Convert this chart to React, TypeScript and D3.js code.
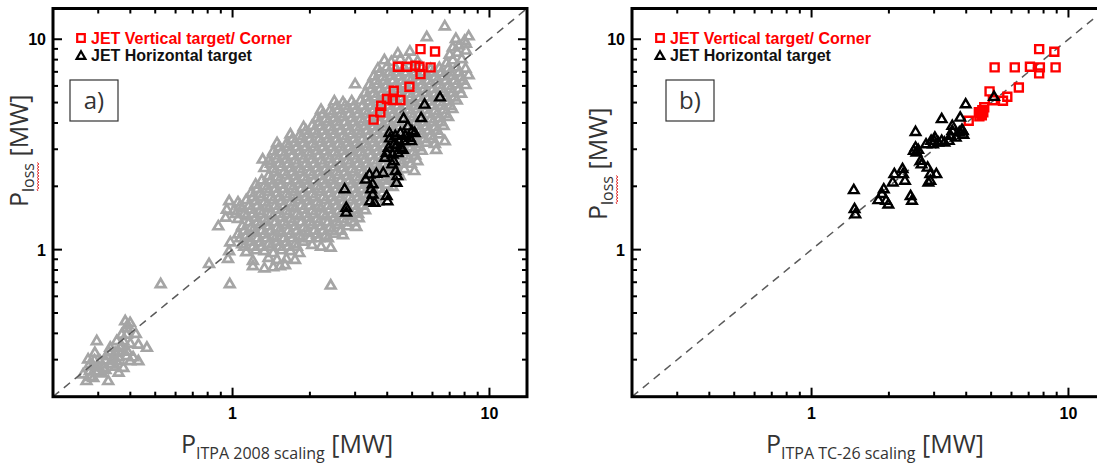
import React from 'react';
import * as d3 from 'd3';

// ---------- data (MW) ----------
// panel a, all ITPA database points (grey), outer rows and outliers
const grayA: [number, number][] = [
  [6.7,11.6],[5.7,10.3],[7.4,10.1],[8.3,10.4],[8.0,9.9],
  [7.6,9.4],[8.1,9.6],[7.2,9.2],
  [4.4,8.6],[4.9,8.8],[7.5,8.7],[8.1,8.9],[7.0,8.5],
  [3.9,8.0],[4.15,7.85],[4.5,8.1],[4.85,7.95],[5.25,7.9],[7.2,8.0],[7.8,8.1],[6.8,7.75],
  [3.68,7.3],[3.98,7.4],[4.31,7.3],[4.66,7.35],[5.04,7.3],[5.45,7.4],[5.9,7.25],[6.38,7.35],[6.9,7.3],[7.46,7.4],[8.07,7.3],
  [3.54,6.7],[3.83,6.65],[4.14,6.75],[4.48,6.7],[4.85,6.6],[5.24,6.7],[5.67,6.75],[6.13,6.65],[6.63,6.7],[7.17,6.75],[7.76,6.65],[8.3,6.8],
  [3.0,6.15],[3.4,6.1],[3.68,6.15],[3.98,6.1],[4.31,6.05],[4.66,6.15],[5.04,6.1],[5.45,6.1],[5.9,6.15],[6.38,6.1],[6.9,6.05],[7.46,6.15],[8.07,6.1],
  [3.28,5.6],[3.54,5.55],[3.83,5.6],[4.14,5.55],[4.48,5.6],[4.85,5.55],[5.24,5.6],[5.67,5.6],[6.13,5.55],[6.63,5.6],[7.17,5.6],[7.76,5.55],
  [2.49,5.1],[2.69,5.05],[2.91,5.1],[3.15,5.15],[3.4,5.1],[3.68,5.05],[3.98,5.1],[4.31,5.15],[4.66,5.1],[5.04,5.05],[5.45,5.1],[5.9,5.1],[6.38,5.05],[6.9,5.1],[7.46,5.15],
  [2.21,4.65],[2.39,4.6],[2.58,4.65],[2.8,4.7],[3.03,4.65],[3.28,4.6],[3.54,4.65],[3.83,4.7],[4.14,4.65],[4.48,4.6],[4.85,4.65],[5.24,4.7],[5.67,4.65],[6.13,4.6],[6.63,4.65],[7.17,4.7],
  [2.13,4.25],[2.3,4.2],[2.49,4.25],[2.69,4.3],[2.91,4.25],[3.15,4.2],[3.4,4.25],[3.68,4.3],[3.98,4.25],[4.31,4.2],[4.66,4.25],[5.04,4.3],[5.45,4.25],[5.9,4.2],[6.38,4.25],[6.9,4.3],
  [1.89,3.85],[2.04,3.9],[2.21,3.88],[2.39,3.85],[2.58,3.9],[2.8,3.88],[3.03,3.85],[3.28,3.9],[3.54,3.88],[3.83,3.85],[4.14,3.9],[4.48,3.88],[4.85,3.85],[5.24,3.9],[5.67,3.88],[6.13,3.85],[6.63,3.9],
  [1.68,3.55],[1.82,3.5],[1.97,3.55],[2.13,3.58],[2.3,3.52],[2.49,3.55],[2.69,3.5],[2.91,3.55],[3.15,3.58],[3.4,3.52],[3.68,3.55],[3.98,3.5],[4.31,3.55],[4.66,3.58],[5.04,3.52],[5.45,3.55],[5.9,3.5],[6.38,3.55],
  [1.49,3.23],[1.62,3.2],[1.75,3.25],[1.89,3.23],[2.04,3.2],[2.21,3.25],[2.39,3.23],[2.58,3.2],[2.8,3.25],[3.03,3.23],[3.28,3.2],[3.54,3.25],[3.83,3.23],[4.14,3.2],[4.48,3.25],[4.85,3.23],[5.24,3.2],[5.67,3.25],[6.13,3.2],[6.7,3.3],
  [1.44,2.95],[1.55,2.92],[1.68,2.97],[1.82,2.95],[1.97,2.92],[2.13,2.97],[2.3,2.95],[2.49,2.92],[2.69,2.97],[2.91,2.95],[3.15,2.92],[3.4,2.97],[3.68,2.95],[3.98,2.92],[4.31,2.97],[4.66,2.95],[5.04,2.92],[5.45,2.97],[6.2,3.0],
  [1.31,2.7],[1.38,2.66],[1.49,2.72],[1.62,2.7],[1.75,2.67],[1.89,2.72],[2.04,2.7],[2.21,2.67],[2.39,2.72],[2.58,2.7],[2.8,2.67],[3.03,2.72],[3.28,2.7],[3.54,2.67],[3.83,2.72],[4.14,2.7],[4.48,2.67],[4.85,2.72],[5.24,2.65],
  [1.33,2.46],[1.44,2.43],[1.55,2.48],[1.68,2.46],[1.82,2.43],[1.97,2.48],[2.13,2.46],[2.3,2.43],[2.49,2.48],[2.69,2.46],[2.91,2.43],[3.15,2.48],[3.4,2.46],[3.68,2.43],[3.98,2.48],[4.31,2.46],[4.66,2.43],[5.1,2.38],
  [1.38,2.25],[1.49,2.22],[1.62,2.27],[1.75,2.25],[1.89,2.22],[2.04,2.27],[2.21,2.25],[2.39,2.22],[2.58,2.27],[2.8,2.25],[3.03,2.22],[3.28,2.27],[3.54,2.25],[3.83,2.22],[4.14,2.27],[4.48,2.25],
  [1.23,2.05],[1.33,2.02],[1.44,2.07],[1.55,2.05],[1.68,2.02],[1.82,2.07],[1.97,2.05],[2.13,2.02],[2.3,2.07],[2.49,2.05],[2.69,2.02],[2.91,2.07],[3.15,2.05],[3.4,2.02],[3.68,2.07],[3.98,2.05],[4.2,2.0],
  [1.18,1.87],[1.28,1.85],[1.38,1.9],[1.49,1.87],[1.62,1.85],[1.75,1.9],[1.89,1.87],[2.04,1.85],[2.21,1.9],[2.39,1.87],[2.58,1.85],[2.8,1.9],[3.03,1.87],[3.28,1.85],[3.54,1.9],[3.83,1.87],
  [0.97,1.71],[1.05,1.69],[1.13,1.73],[1.23,1.71],[1.33,1.69],[1.44,1.73],[1.55,1.71],[1.68,1.69],[1.82,1.73],[1.97,1.71],[2.13,1.69],[2.3,1.73],[2.49,1.71],[2.69,1.69],[2.91,1.73],[3.15,1.71],[3.4,1.69],[3.68,1.7],
  [0.95,1.56],[1.01,1.54],[1.09,1.58],[1.18,1.56],[1.28,1.54],[1.38,1.58],[1.49,1.56],[1.62,1.54],[1.75,1.58],[1.89,1.56],[2.04,1.54],[2.21,1.58],[2.39,1.56],[2.58,1.54],[2.8,1.58],[3.03,1.56],[3.28,1.55],
  [0.94,1.43],[1.05,1.41],[1.13,1.45],[1.23,1.43],[1.33,1.41],[1.44,1.45],[1.55,1.43],[1.68,1.41],[1.82,1.45],[1.97,1.43],[2.13,1.41],[2.3,1.45],[2.49,1.43],[2.69,1.41],[2.91,1.45],[3.1,1.42],
  [0.88,1.3],[1.09,1.3],[1.18,1.28],[1.28,1.32],[1.38,1.3],[1.49,1.28],[1.62,1.32],[1.75,1.3],[1.89,1.28],[2.04,1.32],[2.21,1.3],[2.39,1.28],[2.58,1.32],[2.8,1.3],[3.03,1.29],
  [1.05,1.19],[1.13,1.17],[1.23,1.21],[1.33,1.19],[1.44,1.17],[1.55,1.21],[1.68,1.19],[1.82,1.17],[1.97,1.21],[2.13,1.19],[2.3,1.17],[2.49,1.2],[2.69,1.18],
  [0.98,1.09],[1.09,1.07],[1.18,1.1],[1.28,1.09],[1.38,1.07],[1.49,1.1],[1.62,1.09],[1.75,1.07],[1.89,1.1],[2.04,1.06],[2.21,1.04],[2.41,1.03],
  [0.97,0.99],[1.13,0.98],[1.23,1.0],[1.33,0.99],[1.44,0.97],[1.55,1.0],[1.68,0.99],[1.82,0.97],
  [0.96,0.91],[1.2,0.89],[1.38,0.92],[1.49,0.9],[1.62,0.91],[1.75,0.9],
  [1.2,0.84],[1.33,0.82],[1.44,0.83],[1.53,0.84],[1.6,0.85],
  [0.525,0.69],[0.975,0.69],[2.41,0.68],[0.81,0.86],
  [0.382,0.46],[0.399,0.451],[0.387,0.427],[0.296,0.37],[0.291,0.325],[0.43,0.356],[0.464,0.344],[0.274,0.303],
  [0.278,0.287],[0.324,0.314],[0.349,0.325],[0.365,0.344],[0.376,0.37],[0.354,0.297],[0.399,0.297],[0.43,0.297],
  [0.278,0.266],[0.262,0.257],[0.27,0.239],[0.328,0.239],[0.36,0.262],[0.376,0.276],[0.338,0.287],[0.314,0.276],
  [0.305,0.297],[0.287,0.281],[0.334,0.344],[0.354,0.37],[0.37,0.397],[0.387,0.397],[0.3,0.266],[0.287,0.247],
  [0.387,0.314],[0.343,0.308],[0.36,0.33],[0.32,0.3],[0.35,0.28],[0.31,0.26],
  [0.33,0.33],[0.34,0.3],[0.36,0.31],[0.37,0.35],[0.39,0.33],[0.3,0.28],[0.32,0.27],[0.29,0.3],
  [0.28,0.25],[0.41,0.31],[0.4,0.36],[0.42,0.4],[0.39,0.44],
];

// panel a, dense core of the grey cloud: [P_loss, P_scaling values]
const grayCoreRows: [number, number[]][] = [
  [7.0, [3.75, 4.06, 4.4, 4.75, 5.14, 5.56, 6.02, 6.5, 7.04, 7.6]],
  [6.4, [3.61, 3.9, 4.22, 4.57, 4.94, 5.34, 5.78, 6.26, 6.76, 7.3, 7.9]],
  [5.85, [3.47, 3.75, 4.06, 4.4, 4.75, 5.14, 5.56, 6.02, 6.5, 7.04, 7.6]],
  [5.33, [3.34, 3.61, 3.9, 4.22, 4.57, 4.94, 5.34, 5.78, 6.26, 6.76, 7.3]],
  [4.87, [2.54, 2.74, 2.97, 3.21, 3.47, 3.75, 4.06, 4.4, 4.75, 5.14, 5.56, 6.02, 6.5, 7.04]],
  [4.45, [2.25, 2.44, 2.64, 2.85, 3.08, 3.34, 3.61, 3.9, 4.22, 4.57, 4.94, 5.34, 5.78, 6.26, 6.76]],
  [4.06, [2.17, 2.35, 2.54, 2.74, 2.97, 3.21, 3.47, 3.75, 4.06, 4.4, 4.75, 5.14, 5.56, 6.02, 6.5]],
  [3.7, [1.93, 2.08, 2.25, 2.44, 2.64, 2.85, 3.08, 3.34, 3.61, 3.9, 4.22, 4.57, 4.94, 5.34, 5.78, 6.26]],
  [3.38, [1.71, 1.85, 2.0, 2.17, 2.35, 2.54, 2.74, 2.97, 3.21, 3.47, 3.75, 4.06, 4.4, 4.75, 5.14, 5.56, 6.02]],
  [3.09, [1.52, 1.645, 1.78, 1.93, 2.08, 2.25, 2.44, 2.64, 2.85, 3.08, 3.34, 3.61, 3.9, 4.22, 4.57, 4.94, 5.34]],
  [2.82, [1.465, 1.585, 1.71, 1.85, 2.0, 2.17, 2.35, 2.54, 2.74, 2.97, 3.21, 3.47, 3.75, 4.06, 4.4, 4.75, 5.14]],
  [2.58, [1.41, 1.52, 1.645, 1.78, 1.93, 2.08, 2.25, 2.44, 2.64, 2.85, 3.08, 3.34, 3.61, 3.9, 4.22, 4.57, 4.94]],
  [2.35, [1.465, 1.585, 1.71, 1.85, 2.0, 2.17, 2.35, 2.54, 2.74, 2.97, 3.21, 3.47, 3.75, 4.06, 4.4]],
  [2.15, [1.3, 1.41, 1.52, 1.645, 1.78, 1.93, 2.08, 2.25, 2.44, 2.64, 2.85, 3.08, 3.34, 3.61, 3.9, 4.22]],
  [1.96, [1.25, 1.355, 1.465, 1.585, 1.71, 1.85, 2.0, 2.17, 2.35, 2.54, 2.74, 2.97, 3.21, 3.47, 3.75]],
  [1.79, [1.2, 1.3, 1.41, 1.52, 1.645, 1.78, 1.93, 2.08, 2.25, 2.44, 2.64, 2.85, 3.08, 3.34, 3.61]],
  [1.63, [1.07, 1.16, 1.25, 1.355, 1.465, 1.585, 1.71, 1.85, 2.0, 2.17, 2.35, 2.54, 2.74, 2.97, 3.21]],
  [1.49, [1.03, 1.11, 1.2, 1.3, 1.41, 1.52, 1.645, 1.78, 1.93, 2.08, 2.25, 2.44, 2.64, 2.85, 3.08]],
  [1.36, [1.16, 1.25, 1.355, 1.465, 1.585, 1.71, 1.85, 2.0, 2.17, 2.35, 2.54, 2.74, 2.97]],
  [1.24, [1.11, 1.2, 1.3, 1.41, 1.52, 1.645, 1.78, 1.93, 2.08, 2.25, 2.44, 2.64]],
  [1.14, [1.07, 1.16, 1.25, 1.355, 1.465, 1.585, 1.71, 1.85, 2.0, 2.17, 2.35]],
  [1.04, [1.11, 1.2, 1.3, 1.41, 1.52, 1.645, 1.78]],
];

const blackA: [number, number][] = [
  [6.42,5.33],[5.59,4.92],[5.42,4.25],[4.63,4.22],[4.81,3.88],[4.99,3.68],[5.12,3.61],[4.89,3.42],
  [4.66,3.30],[4.45,3.30],[4.24,3.18],[4.08,3.61],[4.05,3.07],[3.98,2.90],[3.92,2.75],[4.24,2.65],
  [4.18,2.56],[4.31,2.38],[4.38,2.25],[4.35,2.09],[3.86,2.33],[3.63,2.31],[3.41,2.29],[3.30,2.17],
  [3.51,2.06],[3.46,1.95],[3.51,1.84],[3.43,1.71],[3.57,1.68],[3.98,1.81],[4.01,1.71],[2.73,1.95],
  [2.77,1.59],[2.77,1.51],[4.52,3.07],[4.96,3.30],[4.1,3.4],[4.3,3.5],[4.5,3.6],[4.6,3.0],
  [4.4,2.9],[4.2,2.85],[4.7,3.5],[4.35,3.15],
];

const redA: [number, number][] = [
  [5.39,8.98],[6.14,8.75],[4.40,7.40],[4.78,7.40],[5.15,7.48],[5.34,7.40],[5.90,7.35],[5.39,6.83],
  [4.88,5.95],[4.24,5.69],[3.99,5.20],[4.50,5.14],[4.20,5.14],[3.79,4.83],[3.76,4.49],[3.54,4.15],
];

const blackB: [number, number][] = [
  [1.46,1.93],[1.47,1.57],[1.48,1.48],[2.54,3.65],[2.54,3.08],[2.50,2.97],[2.56,2.91],[2.66,2.66],
  [2.68,2.56],[2.83,2.47],[2.90,2.30],[3.06,2.30],[2.85,2.10],[2.90,2.14],[2.43,1.81],[2.46,1.72],
  [2.26,2.43],[2.27,2.30],[2.31,2.14],[2.10,2.30],[2.07,2.10],[1.91,1.95],[1.88,1.85],[1.82,1.73],
  [1.95,1.72],[1.99,1.65],[2.79,3.19],[2.92,3.31],[3.02,3.43],[2.97,3.19],[3.11,3.25],[3.21,3.31],
  [3.29,3.25],[3.42,3.31],[3.48,3.50],[3.53,3.69],[3.64,3.43],[3.76,3.63],[3.21,4.20],[3.79,4.27],
  [3.88,3.69],[3.98,4.94],[3.53,3.90],[5.13,5.36],[3.85,3.74],[3.9,3.54],[3.0,3.3],[2.6,3.0],
];

const redB: [number, number][] = [
  [7.69,8.98],[8.81,8.72],[5.16,7.35],[6.18,7.35],[7.08,7.40],[7.74,7.35],[7.69,6.88],[8.91,7.35],
  [6.41,5.90],[4.93,5.65],[5.78,5.33],[5.56,5.10],[5.08,5.13],[4.5,4.3],[4.55,4.45],[4.62,4.6],
  [4.7,4.75],[4.6,4.35],[4.48,4.5],[4.66,4.5],[4.09,4.10],
];

const majorTicks = [1, 10];
const majorTickLabels = ['1', '10'];
const minorTicks = [0.3, 0.4, 0.5, 0.6, 0.7, 0.8, 0.9, 2, 3, 4, 5, 6, 7, 8, 9];
const legendLabels = ['JET Vertical target/ Corner', 'JET Horizontal target'];
const panelLabels = ['a)', 'b)'];
const xTitleSubs = ['ITPA 2008 scaling', 'ITPA TC-26  scaling'];
const yTitleSub = 'loss';
const DOMAIN: [number, number] = [0.2, 14];

// table for the library, built from the rows above
const grayAll: [number, number][] = [
  ...grayA,
  ...grayCoreRows.flatMap(([yv, xs]) => xs.map((xv) => [xv, yv] as [number, number])),
];

// ---------- layout ----------
const TOP = 8.5;
const BOTTOM = 396.7;
const PW = 474;
const TRI = 'M0,-4.6L4.8,3.6L-4.8,3.6Z';
const SQ = 'M-4,-4H4V4H-4Z';
const GRAY = '#a5a5a5';
const RED = '#ff0000';
const SANS = "'Liberation Sans', Arial, sans-serif";
const CAL = "'Open Sans', sans-serif";

const panels = [
  { left: 53, gray: grayAll, black: blackA, red: redA, boxX: 70, yStart: 207, xTitleX: 181 },
  { left: 632, gray: [] as [number, number][], black: blackB, red: redB, boxX: 666, yStart: 220, xTitleX: 766 },
];

function squiggle(x0: number, x1: number, y: number) {
  let d = `M${x0},${y}`;
  let up = true;
  for (let x = x0 + 1.5; x <= x1; x += 1.5) {
    d += `L${x},${y + (up ? -1 : 1)}`;
    up = !up;
  }
  return d;
}

function Panel({ i }: { i: number }) {
  const p = panels[i];
  const x = d3.scaleLog().domain(DOMAIN).range([p.left, p.left + PW]);
  const y = d3.scaleLog().domain(DOMAIN).range([BOTTOM, TOP]);
  const right = p.left + PW;
  const ticks = [
    ...majorTicks.map((v) => ({ v, len: 9 })),
    ...minorTicks.map((v) => ({ v, len: 5 })),
  ];
  return (
    <g>
      {p.gray.map((d, k) => (
        <path key={'g' + k} d={TRI} transform={`translate(${x(d[0])},${y(d[1])})`}
          fill="none" stroke={GRAY} strokeWidth={2.7} />
      ))}
      <line x1={x(DOMAIN[0])} y1={y(DOMAIN[0])} x2={x(DOMAIN[1])} y2={y(DOMAIN[1])}
        stroke="#5a5a5a" strokeWidth={1.5} strokeDasharray="8,6" />
      {p.red.map((d, k) => (
        <path key={'r' + k} d={SQ} transform={`translate(${x(d[0])},${y(d[1])})`}
          fill="none" stroke={RED} strokeWidth={2.4} />
      ))}
      {p.black.map((d, k) => (
        <path key={'b' + k} d={TRI} transform={`translate(${x(d[0])},${y(d[1])})`}
          fill="none" stroke="#000" strokeWidth={2.4} />
      ))}
      <rect x={p.left} y={TOP} width={PW} height={BOTTOM - TOP} fill="none" stroke="#000" strokeWidth={3} />
      {ticks.map((t, k) => (
        <g key={'t' + k} stroke="#000" strokeWidth={2}>
          <line x1={x(t.v)} x2={x(t.v)} y1={BOTTOM} y2={BOTTOM - t.len} />
          <line x1={x(t.v)} x2={x(t.v)} y1={TOP} y2={TOP + t.len} />
          <line x1={p.left} x2={p.left + t.len} y1={y(t.v)} y2={y(t.v)} />
          <line x1={right} x2={right - t.len} y1={y(t.v)} y2={y(t.v)} />
        </g>
      ))}
      {majorTicks.map((v, k) => (
        <g key={'l' + k} fontFamily={SANS} fontWeight="bold" fontSize={16} fill="#000">
          <text x={x(v)} y={419} textAnchor="middle">{majorTickLabels[k]}</text>
          <text x={p.left - 7} y={y(v) + 6} textAnchor="end">{majorTickLabels[k]}</text>
        </g>
      ))}
      <path d="M-3.8,-3.8H3.8V3.8H-3.8Z" transform={`translate(${p.left + 28},${38})`} fill="none" stroke={RED} strokeWidth={2.2} />
      <path d="M0,-4.2L4.4,3.4L-4.4,3.4Z" transform={`translate(${p.left + 28},${55.5})`} fill="none" stroke="#000" strokeWidth={2.2} />
      <text x={p.left + 38} y={43.5} fontFamily={SANS} fontWeight="bold" fontSize={16} fill={RED}>{legendLabels[0]}</text>
      <text x={p.left + 38} y={61} fontFamily={SANS} fontWeight="bold" fontSize={16} fill="#111">{legendLabels[1]}</text>
      <rect x={p.boxX} y={80} width={48} height={41} fill="#fff" stroke="#333" strokeWidth={1.2} />
      <text x={p.boxX + 24} y={109} textAnchor="middle" fontFamily={CAL} fontSize={24} fill="#333">{panelLabels[i]}</text>
      <text x={p.xTitleX} y={453} fontFamily={CAL} fill="#333">
        <tspan fontSize={25}>P</tspan>
        <tspan fontSize={16} dy={6}>{xTitleSubs[i]}</tspan>
        <tspan fontSize={25} dy={-6}> [MW]</tspan>
      </text>
      <g transform={`translate(${p.left - 25},${p.yStart}) rotate(-90)`}>
        <text x={0} y={0} fontFamily={CAL} fill="#333">
          <tspan fontSize={25}>P</tspan>
          <tspan fontSize={16} dy={6}>{yTitleSub}</tspan>
          <tspan fontSize={25} dy={-6}> [MW]</tspan>
        </text>
        <path d={squiggle(16, 45, 10)} fill="none" stroke="#e02020" strokeWidth={0.9} />
      </g>
    </g>
  );
}

export default function App() {
  return (
    <svg width={1097} height={467} style={{ position: 'absolute', left: 0, top: 0, background: '#fff' }}>
      <rect x={0} y={0} width={1097} height={467} fill="#fff" />
      <Panel i={0} />
      <Panel i={1} />
    </svg>
  );
}
